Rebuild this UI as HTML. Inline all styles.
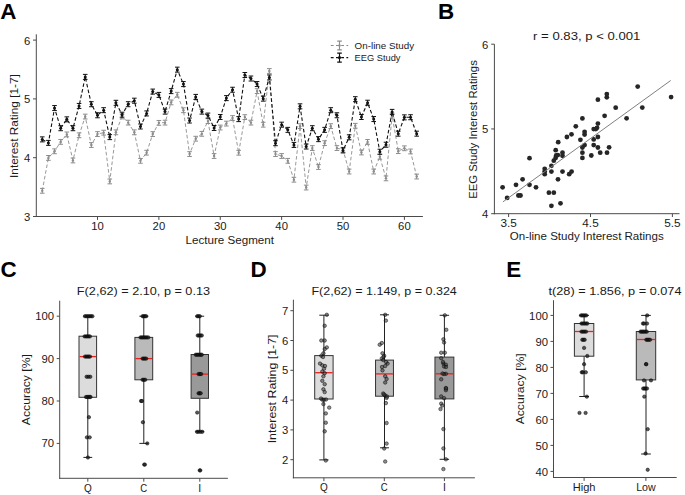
<!DOCTYPE html>
<html><head><meta charset="utf-8"><style>
html,body{margin:0;padding:0;background:#fff;}
svg{display:block;font-family:"Liberation Sans",sans-serif;}
</style></head><body>
<svg width="685" height="495" viewBox="0 0 685 495">
<rect width="685" height="495" fill="#fff"/>
<text x="0.2" y="18.7" font-size="22.4" font-weight="bold" fill="#000">A</text>
<text x="437.9" y="18.7" font-size="22.4" font-weight="bold" fill="#000">B</text>
<text x="0.6" y="277.3" font-size="22.4" font-weight="bold" fill="#000">C</text>
<text x="250.6" y="277.4" font-size="22.4" font-weight="bold" fill="#000">D</text>
<text x="506.2" y="277.3" font-size="22.4" font-weight="bold" fill="#000">E</text>
<line x1="36.30" y1="34.30" x2="36.30" y2="217.00" stroke="#4a4a4a" stroke-width="1.0"/>
<line x1="35.80" y1="216.50" x2="422.90" y2="216.50" stroke="#4a4a4a" stroke-width="1.0"/>
<line x1="33.00" y1="216.50" x2="36.30" y2="216.50" stroke="#4a4a4a" stroke-width="1.0"/>
<text transform="translate(30.40,220.90) scale(1.0792,1)" font-size="10.49" text-anchor="end" fill="#1a1a1a">3</text>
<line x1="33.00" y1="157.70" x2="36.30" y2="157.70" stroke="#4a4a4a" stroke-width="1.0"/>
<text transform="translate(30.40,162.10) scale(1.0792,1)" font-size="10.49" text-anchor="end" fill="#1a1a1a">4</text>
<line x1="33.00" y1="98.90" x2="36.30" y2="98.90" stroke="#4a4a4a" stroke-width="1.0"/>
<text transform="translate(30.40,103.30) scale(1.0792,1)" font-size="10.49" text-anchor="end" fill="#1a1a1a">5</text>
<line x1="33.00" y1="40.10" x2="36.30" y2="40.10" stroke="#4a4a4a" stroke-width="1.0"/>
<text transform="translate(30.40,44.50) scale(1.0792,1)" font-size="10.49" text-anchor="end" fill="#1a1a1a">6</text>
<line x1="97.50" y1="216.50" x2="97.50" y2="219.90" stroke="#4a4a4a" stroke-width="1.0"/>
<text transform="translate(97.50,230.00) scale(1.0792,1)" font-size="10.49" text-anchor="middle" fill="#1a1a1a">10</text>
<line x1="158.88" y1="216.50" x2="158.88" y2="219.90" stroke="#4a4a4a" stroke-width="1.0"/>
<text transform="translate(158.88,230.00) scale(1.0792,1)" font-size="10.49" text-anchor="middle" fill="#1a1a1a">20</text>
<line x1="220.26" y1="216.50" x2="220.26" y2="219.90" stroke="#4a4a4a" stroke-width="1.0"/>
<text transform="translate(220.26,230.00) scale(1.0792,1)" font-size="10.49" text-anchor="middle" fill="#1a1a1a">30</text>
<line x1="281.64" y1="216.50" x2="281.64" y2="219.90" stroke="#4a4a4a" stroke-width="1.0"/>
<text transform="translate(281.64,230.00) scale(1.0792,1)" font-size="10.49" text-anchor="middle" fill="#1a1a1a">40</text>
<line x1="343.02" y1="216.50" x2="343.02" y2="219.90" stroke="#4a4a4a" stroke-width="1.0"/>
<text transform="translate(343.02,230.00) scale(1.0792,1)" font-size="10.49" text-anchor="middle" fill="#1a1a1a">50</text>
<line x1="404.40" y1="216.50" x2="404.40" y2="219.90" stroke="#4a4a4a" stroke-width="1.0"/>
<text transform="translate(404.40,230.00) scale(1.0792,1)" font-size="10.49" text-anchor="middle" fill="#1a1a1a">60</text>
<text transform="translate(229.75,243.70) scale(1.0595,1)" font-size="10.97" text-anchor="middle" fill="#1a1a1a">Lecture Segment</text>
<text transform="translate(17.90,126.10) rotate(-90) scale(1.0879,1)" font-size="10.87" text-anchor="middle" fill="#1a1a1a">Interest Rating [1-7]</text>
<polyline points="42.26,190.80 48.40,157.90 54.53,151.29 60.67,141.88 66.81,134.43 72.95,160.47 79.09,135.29 85.22,116.56 91.36,145.03 97.50,134.07 103.64,132.68 109.78,181.43 115.91,132.32 122.05,116.47 128.19,122.63 134.33,132.32 140.47,160.83 146.60,152.69 152.74,134.07 158.88,122.87 165.02,122.63 171.16,102.39 177.29,94.77 183.43,110.24 189.57,154.07 195.71,138.71 201.85,133.83 207.98,121.08 214.12,156.02 220.26,127.52 226.40,123.60 232.54,118.07 238.67,152.73 244.81,117.12 250.95,122.63 257.09,91.11 263.23,124.70 269.36,71.02 275.50,154.07 281.64,156.02 287.78,160.83 293.92,179.72 300.05,126.16 306.19,187.55 312.33,148.08 318.47,167.02 324.61,143.16 330.74,126.16 336.88,148.08 343.02,149.82 349.16,171.54 355.30,125.80 361.43,152.48 367.57,141.92 373.71,171.54 379.85,156.82 385.99,178.37 392.12,115.57 398.26,151.14 404.40,148.28 410.54,151.47 416.68,176.55" fill="none" stroke="#999" stroke-width="1.0" stroke-dasharray="3.6 2.2"/>
<path d="M42.26 188.40V193.20M39.96 188.40h4.6M39.96 193.20h4.6" stroke="#8c8c8c" stroke-width="1" fill="none"/>
<circle cx="42.26" cy="190.80" r="1.2" fill="#8c8c8c"/>
<path d="M48.40 155.50V160.30M46.10 155.50h4.6M46.10 160.30h4.6" stroke="#8c8c8c" stroke-width="1" fill="none"/>
<circle cx="48.40" cy="157.90" r="1.2" fill="#8c8c8c"/>
<path d="M54.53 148.89V153.69M52.23 148.89h4.6M52.23 153.69h4.6" stroke="#8c8c8c" stroke-width="1" fill="none"/>
<circle cx="54.53" cy="151.29" r="1.2" fill="#8c8c8c"/>
<path d="M60.67 139.48V144.28M58.37 139.48h4.6M58.37 144.28h4.6" stroke="#8c8c8c" stroke-width="1" fill="none"/>
<circle cx="60.67" cy="141.88" r="1.2" fill="#8c8c8c"/>
<path d="M66.81 132.03V136.83M64.51 132.03h4.6M64.51 136.83h4.6" stroke="#8c8c8c" stroke-width="1" fill="none"/>
<circle cx="66.81" cy="134.43" r="1.2" fill="#8c8c8c"/>
<path d="M72.95 158.07V162.87M70.65 158.07h4.6M70.65 162.87h4.6" stroke="#8c8c8c" stroke-width="1" fill="none"/>
<circle cx="72.95" cy="160.47" r="1.2" fill="#8c8c8c"/>
<path d="M79.09 132.89V137.69M76.79 132.89h4.6M76.79 137.69h4.6" stroke="#8c8c8c" stroke-width="1" fill="none"/>
<circle cx="79.09" cy="135.29" r="1.2" fill="#8c8c8c"/>
<path d="M85.22 114.16V118.96M82.92 114.16h4.6M82.92 118.96h4.6" stroke="#8c8c8c" stroke-width="1" fill="none"/>
<circle cx="85.22" cy="116.56" r="1.2" fill="#8c8c8c"/>
<path d="M91.36 142.63V147.43M89.06 142.63h4.6M89.06 147.43h4.6" stroke="#8c8c8c" stroke-width="1" fill="none"/>
<circle cx="91.36" cy="145.03" r="1.2" fill="#8c8c8c"/>
<path d="M97.50 131.67V136.47M95.20 131.67h4.6M95.20 136.47h4.6" stroke="#8c8c8c" stroke-width="1" fill="none"/>
<circle cx="97.50" cy="134.07" r="1.2" fill="#8c8c8c"/>
<path d="M103.64 130.28V135.08M101.34 130.28h4.6M101.34 135.08h4.6" stroke="#8c8c8c" stroke-width="1" fill="none"/>
<circle cx="103.64" cy="132.68" r="1.2" fill="#8c8c8c"/>
<path d="M109.78 179.03V183.83M107.48 179.03h4.6M107.48 183.83h4.6" stroke="#8c8c8c" stroke-width="1" fill="none"/>
<circle cx="109.78" cy="181.43" r="1.2" fill="#8c8c8c"/>
<path d="M115.91 129.92V134.72M113.61 129.92h4.6M113.61 134.72h4.6" stroke="#8c8c8c" stroke-width="1" fill="none"/>
<circle cx="115.91" cy="132.32" r="1.2" fill="#8c8c8c"/>
<path d="M122.05 114.07V118.87M119.75 114.07h4.6M119.75 118.87h4.6" stroke="#8c8c8c" stroke-width="1" fill="none"/>
<circle cx="122.05" cy="116.47" r="1.2" fill="#8c8c8c"/>
<path d="M128.19 120.23V125.03M125.89 120.23h4.6M125.89 125.03h4.6" stroke="#8c8c8c" stroke-width="1" fill="none"/>
<circle cx="128.19" cy="122.63" r="1.2" fill="#8c8c8c"/>
<path d="M134.33 129.92V134.72M132.03 129.92h4.6M132.03 134.72h4.6" stroke="#8c8c8c" stroke-width="1" fill="none"/>
<circle cx="134.33" cy="132.32" r="1.2" fill="#8c8c8c"/>
<path d="M140.47 158.43V163.23M138.17 158.43h4.6M138.17 163.23h4.6" stroke="#8c8c8c" stroke-width="1" fill="none"/>
<circle cx="140.47" cy="160.83" r="1.2" fill="#8c8c8c"/>
<path d="M146.60 150.29V155.09M144.30 150.29h4.6M144.30 155.09h4.6" stroke="#8c8c8c" stroke-width="1" fill="none"/>
<circle cx="146.60" cy="152.69" r="1.2" fill="#8c8c8c"/>
<path d="M152.74 131.67V136.47M150.44 131.67h4.6M150.44 136.47h4.6" stroke="#8c8c8c" stroke-width="1" fill="none"/>
<circle cx="152.74" cy="134.07" r="1.2" fill="#8c8c8c"/>
<path d="M158.88 120.47V125.27M156.58 120.47h4.6M156.58 125.27h4.6" stroke="#8c8c8c" stroke-width="1" fill="none"/>
<circle cx="158.88" cy="122.87" r="1.2" fill="#8c8c8c"/>
<path d="M165.02 120.23V125.03M162.72 120.23h4.6M162.72 125.03h4.6" stroke="#8c8c8c" stroke-width="1" fill="none"/>
<circle cx="165.02" cy="122.63" r="1.2" fill="#8c8c8c"/>
<path d="M171.16 99.99V104.79M168.86 99.99h4.6M168.86 104.79h4.6" stroke="#8c8c8c" stroke-width="1" fill="none"/>
<circle cx="171.16" cy="102.39" r="1.2" fill="#8c8c8c"/>
<path d="M177.29 92.37V97.17M174.99 92.37h4.6M174.99 97.17h4.6" stroke="#8c8c8c" stroke-width="1" fill="none"/>
<circle cx="177.29" cy="94.77" r="1.2" fill="#8c8c8c"/>
<path d="M183.43 107.84V112.64M181.13 107.84h4.6M181.13 112.64h4.6" stroke="#8c8c8c" stroke-width="1" fill="none"/>
<circle cx="183.43" cy="110.24" r="1.2" fill="#8c8c8c"/>
<path d="M189.57 151.67V156.47M187.27 151.67h4.6M187.27 156.47h4.6" stroke="#8c8c8c" stroke-width="1" fill="none"/>
<circle cx="189.57" cy="154.07" r="1.2" fill="#8c8c8c"/>
<path d="M195.71 136.31V141.11M193.41 136.31h4.6M193.41 141.11h4.6" stroke="#8c8c8c" stroke-width="1" fill="none"/>
<circle cx="195.71" cy="138.71" r="1.2" fill="#8c8c8c"/>
<path d="M201.85 131.43V136.23M199.55 131.43h4.6M199.55 136.23h4.6" stroke="#8c8c8c" stroke-width="1" fill="none"/>
<circle cx="201.85" cy="133.83" r="1.2" fill="#8c8c8c"/>
<path d="M207.98 118.68V123.48M205.68 118.68h4.6M205.68 123.48h4.6" stroke="#8c8c8c" stroke-width="1" fill="none"/>
<circle cx="207.98" cy="121.08" r="1.2" fill="#8c8c8c"/>
<path d="M214.12 153.62V158.42M211.82 153.62h4.6M211.82 158.42h4.6" stroke="#8c8c8c" stroke-width="1" fill="none"/>
<circle cx="214.12" cy="156.02" r="1.2" fill="#8c8c8c"/>
<path d="M220.26 125.12V129.92M217.96 125.12h4.6M217.96 129.92h4.6" stroke="#8c8c8c" stroke-width="1" fill="none"/>
<circle cx="220.26" cy="127.52" r="1.2" fill="#8c8c8c"/>
<path d="M226.40 121.20V126.00M224.10 121.20h4.6M224.10 126.00h4.6" stroke="#8c8c8c" stroke-width="1" fill="none"/>
<circle cx="226.40" cy="123.60" r="1.2" fill="#8c8c8c"/>
<path d="M232.54 115.67V120.47M230.24 115.67h4.6M230.24 120.47h4.6" stroke="#8c8c8c" stroke-width="1" fill="none"/>
<circle cx="232.54" cy="118.07" r="1.2" fill="#8c8c8c"/>
<path d="M238.67 150.33V155.13M236.37 150.33h4.6M236.37 155.13h4.6" stroke="#8c8c8c" stroke-width="1" fill="none"/>
<circle cx="238.67" cy="152.73" r="1.2" fill="#8c8c8c"/>
<path d="M244.81 114.72V119.52M242.51 114.72h4.6M242.51 119.52h4.6" stroke="#8c8c8c" stroke-width="1" fill="none"/>
<circle cx="244.81" cy="117.12" r="1.2" fill="#8c8c8c"/>
<path d="M250.95 120.23V125.03M248.65 120.23h4.6M248.65 125.03h4.6" stroke="#8c8c8c" stroke-width="1" fill="none"/>
<circle cx="250.95" cy="122.63" r="1.2" fill="#8c8c8c"/>
<path d="M257.09 88.71V93.51M254.79 88.71h4.6M254.79 93.51h4.6" stroke="#8c8c8c" stroke-width="1" fill="none"/>
<circle cx="257.09" cy="91.11" r="1.2" fill="#8c8c8c"/>
<path d="M263.23 122.30V127.10M260.93 122.30h4.6M260.93 127.10h4.6" stroke="#8c8c8c" stroke-width="1" fill="none"/>
<circle cx="263.23" cy="124.70" r="1.2" fill="#8c8c8c"/>
<path d="M269.36 68.62V73.42M267.06 68.62h4.6M267.06 73.42h4.6" stroke="#8c8c8c" stroke-width="1" fill="none"/>
<circle cx="269.36" cy="71.02" r="1.2" fill="#8c8c8c"/>
<path d="M275.50 151.67V156.47M273.20 151.67h4.6M273.20 156.47h4.6" stroke="#8c8c8c" stroke-width="1" fill="none"/>
<circle cx="275.50" cy="154.07" r="1.2" fill="#8c8c8c"/>
<path d="M281.64 153.62V158.42M279.34 153.62h4.6M279.34 158.42h4.6" stroke="#8c8c8c" stroke-width="1" fill="none"/>
<circle cx="281.64" cy="156.02" r="1.2" fill="#8c8c8c"/>
<path d="M287.78 158.43V163.23M285.48 158.43h4.6M285.48 163.23h4.6" stroke="#8c8c8c" stroke-width="1" fill="none"/>
<circle cx="287.78" cy="160.83" r="1.2" fill="#8c8c8c"/>
<path d="M293.92 177.32V182.12M291.62 177.32h4.6M291.62 182.12h4.6" stroke="#8c8c8c" stroke-width="1" fill="none"/>
<circle cx="293.92" cy="179.72" r="1.2" fill="#8c8c8c"/>
<path d="M300.05 123.76V128.56M297.75 123.76h4.6M297.75 128.56h4.6" stroke="#8c8c8c" stroke-width="1" fill="none"/>
<circle cx="300.05" cy="126.16" r="1.2" fill="#8c8c8c"/>
<path d="M306.19 185.15V189.95M303.89 185.15h4.6M303.89 189.95h4.6" stroke="#8c8c8c" stroke-width="1" fill="none"/>
<circle cx="306.19" cy="187.55" r="1.2" fill="#8c8c8c"/>
<path d="M312.33 145.68V150.48M310.03 145.68h4.6M310.03 150.48h4.6" stroke="#8c8c8c" stroke-width="1" fill="none"/>
<circle cx="312.33" cy="148.08" r="1.2" fill="#8c8c8c"/>
<path d="M318.47 164.62V169.42M316.17 164.62h4.6M316.17 169.42h4.6" stroke="#8c8c8c" stroke-width="1" fill="none"/>
<circle cx="318.47" cy="167.02" r="1.2" fill="#8c8c8c"/>
<path d="M324.61 140.76V145.56M322.31 140.76h4.6M322.31 145.56h4.6" stroke="#8c8c8c" stroke-width="1" fill="none"/>
<circle cx="324.61" cy="143.16" r="1.2" fill="#8c8c8c"/>
<path d="M330.74 123.76V128.56M328.44 123.76h4.6M328.44 128.56h4.6" stroke="#8c8c8c" stroke-width="1" fill="none"/>
<circle cx="330.74" cy="126.16" r="1.2" fill="#8c8c8c"/>
<path d="M336.88 145.68V150.48M334.58 145.68h4.6M334.58 150.48h4.6" stroke="#8c8c8c" stroke-width="1" fill="none"/>
<circle cx="336.88" cy="148.08" r="1.2" fill="#8c8c8c"/>
<path d="M343.02 147.42V152.22M340.72 147.42h4.6M340.72 152.22h4.6" stroke="#8c8c8c" stroke-width="1" fill="none"/>
<circle cx="343.02" cy="149.82" r="1.2" fill="#8c8c8c"/>
<path d="M349.16 169.14V173.94M346.86 169.14h4.6M346.86 173.94h4.6" stroke="#8c8c8c" stroke-width="1" fill="none"/>
<circle cx="349.16" cy="171.54" r="1.2" fill="#8c8c8c"/>
<path d="M355.30 123.40V128.20M353.00 123.40h4.6M353.00 128.20h4.6" stroke="#8c8c8c" stroke-width="1" fill="none"/>
<circle cx="355.30" cy="125.80" r="1.2" fill="#8c8c8c"/>
<path d="M361.43 150.08V154.88M359.13 150.08h4.6M359.13 154.88h4.6" stroke="#8c8c8c" stroke-width="1" fill="none"/>
<circle cx="361.43" cy="152.48" r="1.2" fill="#8c8c8c"/>
<path d="M367.57 139.52V144.32M365.27 139.52h4.6M365.27 144.32h4.6" stroke="#8c8c8c" stroke-width="1" fill="none"/>
<circle cx="367.57" cy="141.92" r="1.2" fill="#8c8c8c"/>
<path d="M373.71 169.14V173.94M371.41 169.14h4.6M371.41 173.94h4.6" stroke="#8c8c8c" stroke-width="1" fill="none"/>
<circle cx="373.71" cy="171.54" r="1.2" fill="#8c8c8c"/>
<path d="M379.85 154.42V159.22M377.55 154.42h4.6M377.55 159.22h4.6" stroke="#8c8c8c" stroke-width="1" fill="none"/>
<circle cx="379.85" cy="156.82" r="1.2" fill="#8c8c8c"/>
<path d="M385.99 175.97V180.77M383.69 175.97h4.6M383.69 180.77h4.6" stroke="#8c8c8c" stroke-width="1" fill="none"/>
<circle cx="385.99" cy="178.37" r="1.2" fill="#8c8c8c"/>
<path d="M392.12 113.17V117.97M389.82 113.17h4.6M389.82 117.97h4.6" stroke="#8c8c8c" stroke-width="1" fill="none"/>
<circle cx="392.12" cy="115.57" r="1.2" fill="#8c8c8c"/>
<path d="M398.26 148.74V153.54M395.96 148.74h4.6M395.96 153.54h4.6" stroke="#8c8c8c" stroke-width="1" fill="none"/>
<circle cx="398.26" cy="151.14" r="1.2" fill="#8c8c8c"/>
<path d="M404.40 145.88V150.68M402.10 145.88h4.6M402.10 150.68h4.6" stroke="#8c8c8c" stroke-width="1" fill="none"/>
<circle cx="404.40" cy="148.28" r="1.2" fill="#8c8c8c"/>
<path d="M410.54 149.07V153.87M408.24 149.07h4.6M408.24 153.87h4.6" stroke="#8c8c8c" stroke-width="1" fill="none"/>
<circle cx="410.54" cy="151.47" r="1.2" fill="#8c8c8c"/>
<path d="M416.68 174.15V178.95M414.38 174.15h4.6M414.38 178.95h4.6" stroke="#8c8c8c" stroke-width="1" fill="none"/>
<circle cx="416.68" cy="176.55" r="1.2" fill="#8c8c8c"/>
<polyline points="42.26,139.39 48.40,142.88 54.53,108.06 60.67,128.21 66.81,119.35 72.95,128.21 79.09,105.94 85.22,76.88 91.36,104.21 97.50,115.27 103.64,110.18 109.78,137.11 115.91,102.81 122.05,114.71 128.19,104.21 134.33,100.69 140.47,126.49 146.60,113.43 152.74,91.59 158.88,94.91 165.02,111.62 171.16,91.11 177.29,69.67 183.43,84.09 189.57,120.52 195.71,96.92 201.85,111.62 207.98,115.59 214.12,127.97 220.26,116.99 226.40,98.10 232.54,89.75 238.67,119.11 244.81,75.03 250.95,78.52 257.09,84.05 263.23,98.64 269.36,77.44 275.50,143.20 281.64,124.68 287.78,129.86 293.92,144.92 300.05,106.33 306.19,146.52 312.33,128.21 318.47,139.15 324.61,129.86 330.74,110.18 336.88,115.27 343.02,150.45 349.16,137.31 355.30,99.20 361.43,116.99 367.57,102.73 373.71,119.04 379.85,151.73 385.99,144.72 392.12,111.90 398.26,133.66 404.40,117.36 410.54,117.23 416.68,133.66" fill="none" stroke="#111" stroke-width="1.1" stroke-dasharray="3.6 2.2"/>
<path d="M42.26 136.89V141.89M39.96 136.89h4.6M39.96 141.89h4.6" stroke="#111" stroke-width="1" fill="none"/>
<circle cx="42.26" cy="139.39" r="1.5" fill="#111"/>
<path d="M48.40 140.38V145.38M46.10 140.38h4.6M46.10 145.38h4.6" stroke="#111" stroke-width="1" fill="none"/>
<circle cx="48.40" cy="142.88" r="1.5" fill="#111"/>
<path d="M54.53 105.56V110.56M52.23 105.56h4.6M52.23 110.56h4.6" stroke="#111" stroke-width="1" fill="none"/>
<circle cx="54.53" cy="108.06" r="1.5" fill="#111"/>
<path d="M60.67 125.71V130.71M58.37 125.71h4.6M58.37 130.71h4.6" stroke="#111" stroke-width="1" fill="none"/>
<circle cx="60.67" cy="128.21" r="1.5" fill="#111"/>
<path d="M66.81 116.85V121.85M64.51 116.85h4.6M64.51 121.85h4.6" stroke="#111" stroke-width="1" fill="none"/>
<circle cx="66.81" cy="119.35" r="1.5" fill="#111"/>
<path d="M72.95 125.71V130.71M70.65 125.71h4.6M70.65 130.71h4.6" stroke="#111" stroke-width="1" fill="none"/>
<circle cx="72.95" cy="128.21" r="1.5" fill="#111"/>
<path d="M79.09 103.44V108.44M76.79 103.44h4.6M76.79 108.44h4.6" stroke="#111" stroke-width="1" fill="none"/>
<circle cx="79.09" cy="105.94" r="1.5" fill="#111"/>
<path d="M85.22 74.38V79.38M82.92 74.38h4.6M82.92 79.38h4.6" stroke="#111" stroke-width="1" fill="none"/>
<circle cx="85.22" cy="76.88" r="1.5" fill="#111"/>
<path d="M91.36 101.71V106.71M89.06 101.71h4.6M89.06 106.71h4.6" stroke="#111" stroke-width="1" fill="none"/>
<circle cx="91.36" cy="104.21" r="1.5" fill="#111"/>
<path d="M97.50 112.77V117.77M95.20 112.77h4.6M95.20 117.77h4.6" stroke="#111" stroke-width="1" fill="none"/>
<circle cx="97.50" cy="115.27" r="1.5" fill="#111"/>
<path d="M103.64 107.68V112.68M101.34 107.68h4.6M101.34 112.68h4.6" stroke="#111" stroke-width="1" fill="none"/>
<circle cx="103.64" cy="110.18" r="1.5" fill="#111"/>
<path d="M109.78 134.61V139.61M107.48 134.61h4.6M107.48 139.61h4.6" stroke="#111" stroke-width="1" fill="none"/>
<circle cx="109.78" cy="137.11" r="1.5" fill="#111"/>
<path d="M115.91 100.31V105.31M113.61 100.31h4.6M113.61 105.31h4.6" stroke="#111" stroke-width="1" fill="none"/>
<circle cx="115.91" cy="102.81" r="1.5" fill="#111"/>
<path d="M122.05 112.21V117.21M119.75 112.21h4.6M119.75 117.21h4.6" stroke="#111" stroke-width="1" fill="none"/>
<circle cx="122.05" cy="114.71" r="1.5" fill="#111"/>
<path d="M128.19 101.71V106.71M125.89 101.71h4.6M125.89 106.71h4.6" stroke="#111" stroke-width="1" fill="none"/>
<circle cx="128.19" cy="104.21" r="1.5" fill="#111"/>
<path d="M134.33 98.19V103.19M132.03 98.19h4.6M132.03 103.19h4.6" stroke="#111" stroke-width="1" fill="none"/>
<circle cx="134.33" cy="100.69" r="1.5" fill="#111"/>
<path d="M140.47 123.99V128.99M138.17 123.99h4.6M138.17 128.99h4.6" stroke="#111" stroke-width="1" fill="none"/>
<circle cx="140.47" cy="126.49" r="1.5" fill="#111"/>
<path d="M146.60 110.93V115.93M144.30 110.93h4.6M144.30 115.93h4.6" stroke="#111" stroke-width="1" fill="none"/>
<circle cx="146.60" cy="113.43" r="1.5" fill="#111"/>
<path d="M152.74 89.09V94.09M150.44 89.09h4.6M150.44 94.09h4.6" stroke="#111" stroke-width="1" fill="none"/>
<circle cx="152.74" cy="91.59" r="1.5" fill="#111"/>
<path d="M158.88 92.41V97.41M156.58 92.41h4.6M156.58 97.41h4.6" stroke="#111" stroke-width="1" fill="none"/>
<circle cx="158.88" cy="94.91" r="1.5" fill="#111"/>
<path d="M165.02 109.12V114.12M162.72 109.12h4.6M162.72 114.12h4.6" stroke="#111" stroke-width="1" fill="none"/>
<circle cx="165.02" cy="111.62" r="1.5" fill="#111"/>
<path d="M171.16 88.61V93.61M168.86 88.61h4.6M168.86 93.61h4.6" stroke="#111" stroke-width="1" fill="none"/>
<circle cx="171.16" cy="91.11" r="1.5" fill="#111"/>
<path d="M177.29 67.17V72.17M174.99 67.17h4.6M174.99 72.17h4.6" stroke="#111" stroke-width="1" fill="none"/>
<circle cx="177.29" cy="69.67" r="1.5" fill="#111"/>
<path d="M183.43 81.59V86.59M181.13 81.59h4.6M181.13 86.59h4.6" stroke="#111" stroke-width="1" fill="none"/>
<circle cx="183.43" cy="84.09" r="1.5" fill="#111"/>
<path d="M189.57 118.02V123.02M187.27 118.02h4.6M187.27 123.02h4.6" stroke="#111" stroke-width="1" fill="none"/>
<circle cx="189.57" cy="120.52" r="1.5" fill="#111"/>
<path d="M195.71 94.42V99.42M193.41 94.42h4.6M193.41 99.42h4.6" stroke="#111" stroke-width="1" fill="none"/>
<circle cx="195.71" cy="96.92" r="1.5" fill="#111"/>
<path d="M201.85 109.12V114.12M199.55 109.12h4.6M199.55 114.12h4.6" stroke="#111" stroke-width="1" fill="none"/>
<circle cx="201.85" cy="111.62" r="1.5" fill="#111"/>
<path d="M207.98 113.09V118.09M205.68 113.09h4.6M205.68 118.09h4.6" stroke="#111" stroke-width="1" fill="none"/>
<circle cx="207.98" cy="115.59" r="1.5" fill="#111"/>
<path d="M214.12 125.47V130.47M211.82 125.47h4.6M211.82 130.47h4.6" stroke="#111" stroke-width="1" fill="none"/>
<circle cx="214.12" cy="127.97" r="1.5" fill="#111"/>
<path d="M220.26 114.49V119.49M217.96 114.49h4.6M217.96 119.49h4.6" stroke="#111" stroke-width="1" fill="none"/>
<circle cx="220.26" cy="116.99" r="1.5" fill="#111"/>
<path d="M226.40 95.60V100.60M224.10 95.60h4.6M224.10 100.60h4.6" stroke="#111" stroke-width="1" fill="none"/>
<circle cx="226.40" cy="98.10" r="1.5" fill="#111"/>
<path d="M232.54 87.25V92.25M230.24 87.25h4.6M230.24 92.25h4.6" stroke="#111" stroke-width="1" fill="none"/>
<circle cx="232.54" cy="89.75" r="1.5" fill="#111"/>
<path d="M238.67 116.61V121.61M236.37 116.61h4.6M236.37 121.61h4.6" stroke="#111" stroke-width="1" fill="none"/>
<circle cx="238.67" cy="119.11" r="1.5" fill="#111"/>
<path d="M244.81 72.53V77.53M242.51 72.53h4.6M242.51 77.53h4.6" stroke="#111" stroke-width="1" fill="none"/>
<circle cx="244.81" cy="75.03" r="1.5" fill="#111"/>
<path d="M250.95 76.02V81.02M248.65 76.02h4.6M248.65 81.02h4.6" stroke="#111" stroke-width="1" fill="none"/>
<circle cx="250.95" cy="78.52" r="1.5" fill="#111"/>
<path d="M257.09 81.55V86.55M254.79 81.55h4.6M254.79 86.55h4.6" stroke="#111" stroke-width="1" fill="none"/>
<circle cx="257.09" cy="84.05" r="1.5" fill="#111"/>
<path d="M263.23 96.14V101.14M260.93 96.14h4.6M260.93 101.14h4.6" stroke="#111" stroke-width="1" fill="none"/>
<circle cx="263.23" cy="98.64" r="1.5" fill="#111"/>
<path d="M269.36 74.94V79.94M267.06 74.94h4.6M267.06 79.94h4.6" stroke="#111" stroke-width="1" fill="none"/>
<circle cx="269.36" cy="77.44" r="1.5" fill="#111"/>
<path d="M275.50 140.70V145.70M273.20 140.70h4.6M273.20 145.70h4.6" stroke="#111" stroke-width="1" fill="none"/>
<circle cx="275.50" cy="143.20" r="1.5" fill="#111"/>
<path d="M281.64 122.18V127.18M279.34 122.18h4.6M279.34 127.18h4.6" stroke="#111" stroke-width="1" fill="none"/>
<circle cx="281.64" cy="124.68" r="1.5" fill="#111"/>
<path d="M287.78 127.36V132.36M285.48 127.36h4.6M285.48 132.36h4.6" stroke="#111" stroke-width="1" fill="none"/>
<circle cx="287.78" cy="129.86" r="1.5" fill="#111"/>
<path d="M293.92 142.42V147.42M291.62 142.42h4.6M291.62 147.42h4.6" stroke="#111" stroke-width="1" fill="none"/>
<circle cx="293.92" cy="144.92" r="1.5" fill="#111"/>
<path d="M300.05 103.83V108.83M297.75 103.83h4.6M297.75 108.83h4.6" stroke="#111" stroke-width="1" fill="none"/>
<circle cx="300.05" cy="106.33" r="1.5" fill="#111"/>
<path d="M306.19 144.02V149.02M303.89 144.02h4.6M303.89 149.02h4.6" stroke="#111" stroke-width="1" fill="none"/>
<circle cx="306.19" cy="146.52" r="1.5" fill="#111"/>
<path d="M312.33 125.71V130.71M310.03 125.71h4.6M310.03 130.71h4.6" stroke="#111" stroke-width="1" fill="none"/>
<circle cx="312.33" cy="128.21" r="1.5" fill="#111"/>
<path d="M318.47 136.65V141.65M316.17 136.65h4.6M316.17 141.65h4.6" stroke="#111" stroke-width="1" fill="none"/>
<circle cx="318.47" cy="139.15" r="1.5" fill="#111"/>
<path d="M324.61 127.36V132.36M322.31 127.36h4.6M322.31 132.36h4.6" stroke="#111" stroke-width="1" fill="none"/>
<circle cx="324.61" cy="129.86" r="1.5" fill="#111"/>
<path d="M330.74 107.68V112.68M328.44 107.68h4.6M328.44 112.68h4.6" stroke="#111" stroke-width="1" fill="none"/>
<circle cx="330.74" cy="110.18" r="1.5" fill="#111"/>
<path d="M336.88 112.77V117.77M334.58 112.77h4.6M334.58 117.77h4.6" stroke="#111" stroke-width="1" fill="none"/>
<circle cx="336.88" cy="115.27" r="1.5" fill="#111"/>
<path d="M343.02 147.95V152.95M340.72 147.95h4.6M340.72 152.95h4.6" stroke="#111" stroke-width="1" fill="none"/>
<circle cx="343.02" cy="150.45" r="1.5" fill="#111"/>
<path d="M349.16 134.81V139.81M346.86 134.81h4.6M346.86 139.81h4.6" stroke="#111" stroke-width="1" fill="none"/>
<circle cx="349.16" cy="137.31" r="1.5" fill="#111"/>
<path d="M355.30 96.70V101.70M353.00 96.70h4.6M353.00 101.70h4.6" stroke="#111" stroke-width="1" fill="none"/>
<circle cx="355.30" cy="99.20" r="1.5" fill="#111"/>
<path d="M361.43 114.49V119.49M359.13 114.49h4.6M359.13 119.49h4.6" stroke="#111" stroke-width="1" fill="none"/>
<circle cx="361.43" cy="116.99" r="1.5" fill="#111"/>
<path d="M367.57 100.23V105.23M365.27 100.23h4.6M365.27 105.23h4.6" stroke="#111" stroke-width="1" fill="none"/>
<circle cx="367.57" cy="102.73" r="1.5" fill="#111"/>
<path d="M373.71 116.54V121.54M371.41 116.54h4.6M371.41 121.54h4.6" stroke="#111" stroke-width="1" fill="none"/>
<circle cx="373.71" cy="119.04" r="1.5" fill="#111"/>
<path d="M379.85 149.23V154.23M377.55 149.23h4.6M377.55 154.23h4.6" stroke="#111" stroke-width="1" fill="none"/>
<circle cx="379.85" cy="151.73" r="1.5" fill="#111"/>
<path d="M385.99 142.22V147.22M383.69 142.22h4.6M383.69 147.22h4.6" stroke="#111" stroke-width="1" fill="none"/>
<circle cx="385.99" cy="144.72" r="1.5" fill="#111"/>
<path d="M392.12 109.40V114.40M389.82 109.40h4.6M389.82 114.40h4.6" stroke="#111" stroke-width="1" fill="none"/>
<circle cx="392.12" cy="111.90" r="1.5" fill="#111"/>
<path d="M398.26 131.16V136.16M395.96 131.16h4.6M395.96 136.16h4.6" stroke="#111" stroke-width="1" fill="none"/>
<circle cx="398.26" cy="133.66" r="1.5" fill="#111"/>
<path d="M404.40 114.86V119.86M402.10 114.86h4.6M402.10 119.86h4.6" stroke="#111" stroke-width="1" fill="none"/>
<circle cx="404.40" cy="117.36" r="1.5" fill="#111"/>
<path d="M410.54 114.73V119.73M408.24 114.73h4.6M408.24 119.73h4.6" stroke="#111" stroke-width="1" fill="none"/>
<circle cx="410.54" cy="117.23" r="1.5" fill="#111"/>
<path d="M416.68 131.16V136.16M414.38 131.16h4.6M414.38 136.16h4.6" stroke="#111" stroke-width="1" fill="none"/>
<circle cx="416.68" cy="133.66" r="1.5" fill="#111"/>
<line x1="330.80" y1="45.50" x2="348.20" y2="45.50" stroke="#8c8c8c" stroke-width="1.1" stroke-dasharray="2.8 2.4"/>
<path d="M339.5 41.10V49.90M337.2 41.10h4.6M337.2 49.90h4.6" stroke="#8c8c8c" stroke-width="1.1" fill="none"/>
<circle cx="339.50" cy="45.50" r="1.2" fill="#8c8c8c"/>
<text transform="translate(354.60,48.80) scale(1.0575,1)" font-size="9.28" text-anchor="start" fill="#1a1a1a">On-line Study</text>
<line x1="330.80" y1="57.60" x2="348.20" y2="57.60" stroke="#111" stroke-width="1.1" stroke-dasharray="2.8 2.4"/>
<path d="M339.5 53.10V62.10M337.2 53.10h4.6M337.2 62.10h4.6" stroke="#111" stroke-width="1.1" fill="none"/>
<circle cx="339.50" cy="57.60" r="1.6" fill="#111"/>
<text transform="translate(354.60,60.90) scale(1.0000,1)" font-size="9.28" text-anchor="start" fill="#1a1a1a">EEG Study</text>
<line x1="494.40" y1="44.20" x2="494.40" y2="214.20" stroke="#4a4a4a" stroke-width="1.0"/>
<line x1="493.90" y1="213.70" x2="679.50" y2="213.70" stroke="#4a4a4a" stroke-width="1.0"/>
<line x1="491.20" y1="213.70" x2="494.40" y2="213.70" stroke="#4a4a4a" stroke-width="1.0"/>
<text transform="translate(488.30,218.00) scale(1.0792,1)" font-size="10.49" text-anchor="end" fill="#1a1a1a">4</text>
<line x1="491.20" y1="128.95" x2="494.40" y2="128.95" stroke="#4a4a4a" stroke-width="1.0"/>
<text transform="translate(488.30,133.25) scale(1.0792,1)" font-size="10.49" text-anchor="end" fill="#1a1a1a">5</text>
<line x1="491.20" y1="44.20" x2="494.40" y2="44.20" stroke="#4a4a4a" stroke-width="1.0"/>
<text transform="translate(488.30,48.50) scale(1.0792,1)" font-size="10.49" text-anchor="end" fill="#1a1a1a">6</text>
<line x1="508.60" y1="213.70" x2="508.60" y2="217.00" stroke="#4a4a4a" stroke-width="1.0"/>
<text transform="translate(508.60,226.90) scale(1.0793,1)" font-size="10.92" text-anchor="middle" fill="#1a1a1a">3.5</text>
<line x1="590.50" y1="213.70" x2="590.50" y2="217.00" stroke="#4a4a4a" stroke-width="1.0"/>
<text transform="translate(590.50,226.90) scale(1.0793,1)" font-size="10.92" text-anchor="middle" fill="#1a1a1a">4.5</text>
<line x1="672.40" y1="213.70" x2="672.40" y2="217.00" stroke="#4a4a4a" stroke-width="1.0"/>
<text transform="translate(672.40,226.90) scale(1.0793,1)" font-size="10.92" text-anchor="middle" fill="#1a1a1a">5.5</text>
<text transform="translate(586.70,39.90) scale(1.1386,1)" font-size="11.55" text-anchor="middle" fill="#1a1a1a">r = 0.83, p &lt; 0.001</text>
<text transform="translate(586.70,240.40) scale(1.0626,1)" font-size="10.87" text-anchor="middle" fill="#1a1a1a">On-line Study Interest Ratings</text>
<text transform="translate(477.20,129.50) rotate(-90) scale(1.0398,1)" font-size="10.92" text-anchor="middle" fill="#1a1a1a">EEG Study Interest Ratings</text>
<circle cx="502.60" cy="187.30" r="2.4" fill="#262626"/>
<circle cx="548.90" cy="192.70" r="2.4" fill="#262626"/>
<circle cx="558.20" cy="142.20" r="2.4" fill="#262626"/>
<circle cx="571.60" cy="171.60" r="2.4" fill="#262626"/>
<circle cx="582.40" cy="157.90" r="2.4" fill="#262626"/>
<circle cx="544.70" cy="171.60" r="2.4" fill="#262626"/>
<circle cx="580.40" cy="139.80" r="2.4" fill="#262626"/>
<circle cx="606.80" cy="97.30" r="2.4" fill="#262626"/>
<circle cx="566.90" cy="137.00" r="2.4" fill="#262626"/>
<circle cx="582.40" cy="152.70" r="2.4" fill="#262626"/>
<circle cx="584.60" cy="145.10" r="2.4" fill="#262626"/>
<circle cx="516.00" cy="184.80" r="2.4" fill="#262626"/>
<circle cx="584.60" cy="134.50" r="2.4" fill="#262626"/>
<circle cx="607.00" cy="152.70" r="2.4" fill="#262626"/>
<circle cx="597.90" cy="137.00" r="2.4" fill="#262626"/>
<circle cx="584.60" cy="131.80" r="2.4" fill="#262626"/>
<circle cx="544.70" cy="168.80" r="2.4" fill="#262626"/>
<circle cx="555.70" cy="150.20" r="2.4" fill="#262626"/>
<circle cx="582.40" cy="118.40" r="2.4" fill="#262626"/>
<circle cx="597.90" cy="123.60" r="2.4" fill="#262626"/>
<circle cx="597.90" cy="147.50" r="2.4" fill="#262626"/>
<circle cx="626.60" cy="118.30" r="2.4" fill="#262626"/>
<circle cx="637.70" cy="86.60" r="2.4" fill="#262626"/>
<circle cx="615.70" cy="107.70" r="2.4" fill="#262626"/>
<circle cx="553.80" cy="160.70" r="2.4" fill="#262626"/>
<circle cx="575.80" cy="126.30" r="2.4" fill="#262626"/>
<circle cx="582.40" cy="147.50" r="2.4" fill="#262626"/>
<circle cx="600.20" cy="152.70" r="2.4" fill="#262626"/>
<circle cx="551.40" cy="171.60" r="2.4" fill="#262626"/>
<circle cx="591.30" cy="155.50" r="2.4" fill="#262626"/>
<circle cx="597.05" cy="127.80" r="2.4" fill="#262626"/>
<circle cx="604.60" cy="115.80" r="2.4" fill="#262626"/>
<circle cx="555.60" cy="157.90" r="2.4" fill="#262626"/>
<circle cx="606.80" cy="94.10" r="2.4" fill="#262626"/>
<circle cx="597.90" cy="99.70" r="2.4" fill="#262626"/>
<circle cx="642.30" cy="107.60" r="2.4" fill="#262626"/>
<circle cx="595.80" cy="129.10" r="2.4" fill="#262626"/>
<circle cx="671.10" cy="97.10" r="2.4" fill="#262626"/>
<circle cx="553.80" cy="192.70" r="2.4" fill="#262626"/>
<circle cx="551.40" cy="165.80" r="2.4" fill="#262626"/>
<circle cx="544.70" cy="174.20" r="2.4" fill="#262626"/>
<circle cx="518.40" cy="195.50" r="2.4" fill="#262626"/>
<circle cx="593.70" cy="139.40" r="2.4" fill="#262626"/>
<circle cx="507.10" cy="197.90" r="2.4" fill="#262626"/>
<circle cx="562.50" cy="171.60" r="2.4" fill="#262626"/>
<circle cx="536.00" cy="187.30" r="2.4" fill="#262626"/>
<circle cx="569.20" cy="174.20" r="2.4" fill="#262626"/>
<circle cx="593.70" cy="145.10" r="2.4" fill="#262626"/>
<circle cx="562.50" cy="152.70" r="2.4" fill="#262626"/>
<circle cx="560.50" cy="203.30" r="2.4" fill="#262626"/>
<circle cx="529.50" cy="184.80" r="2.4" fill="#262626"/>
<circle cx="593.70" cy="129.10" r="2.4" fill="#262626"/>
<circle cx="556.20" cy="155.50" r="2.4" fill="#262626"/>
<circle cx="571.50" cy="134.30" r="2.4" fill="#262626"/>
<circle cx="529.50" cy="158.20" r="2.4" fill="#262626"/>
<circle cx="551.40" cy="205.80" r="2.4" fill="#262626"/>
<circle cx="520.50" cy="195.50" r="2.4" fill="#262626"/>
<circle cx="609.10" cy="147.30" r="2.4" fill="#262626"/>
<circle cx="558.00" cy="179.30" r="2.4" fill="#262626"/>
<circle cx="562.50" cy="155.80" r="2.4" fill="#262626"/>
<circle cx="557.80" cy="155.10" r="2.4" fill="#262626"/>
<circle cx="522.60" cy="179.30" r="2.4" fill="#262626"/>
<line x1="502.90" y1="201.90" x2="670.70" y2="80.50" stroke="#808080" stroke-width="1.0"/>
<line x1="59.70" y1="300.70" x2="59.70" y2="478.80" stroke="#4a4a4a" stroke-width="1.0"/>
<line x1="59.20" y1="478.30" x2="227.90" y2="478.30" stroke="#4a4a4a" stroke-width="1.0"/>
<line x1="56.70" y1="316.20" x2="59.70" y2="316.20" stroke="#4a4a4a" stroke-width="1.0"/>
<text transform="translate(54.10,320.10) scale(1.0792,1)" font-size="10.49" text-anchor="end" fill="#1a1a1a">100</text>
<line x1="56.70" y1="358.60" x2="59.70" y2="358.60" stroke="#4a4a4a" stroke-width="1.0"/>
<text transform="translate(54.10,362.50) scale(1.0792,1)" font-size="10.49" text-anchor="end" fill="#1a1a1a">90</text>
<line x1="56.70" y1="401.00" x2="59.70" y2="401.00" stroke="#4a4a4a" stroke-width="1.0"/>
<text transform="translate(54.10,404.90) scale(1.0792,1)" font-size="10.49" text-anchor="end" fill="#1a1a1a">80</text>
<line x1="56.70" y1="443.40" x2="59.70" y2="443.40" stroke="#4a4a4a" stroke-width="1.0"/>
<text transform="translate(54.10,447.30) scale(1.0792,1)" font-size="10.49" text-anchor="end" fill="#1a1a1a">70</text>
<line x1="87.80" y1="478.30" x2="87.80" y2="481.70" stroke="#4a4a4a" stroke-width="1.0"/>
<text transform="translate(87.80,491.70) scale(0.9547,1)" font-size="10.49" text-anchor="middle" fill="#1a1a1a">Q</text>
<line x1="143.80" y1="478.30" x2="143.80" y2="481.70" stroke="#4a4a4a" stroke-width="1.0"/>
<text transform="translate(143.80,491.70) scale(0.9121,1)" font-size="10.49" text-anchor="middle" fill="#1a1a1a">C</text>
<line x1="199.80" y1="478.30" x2="199.80" y2="481.70" stroke="#4a4a4a" stroke-width="1.0"/>
<text transform="translate(199.80,491.70) scale(1.0014,1)" font-size="10.49" text-anchor="middle" fill="#1a1a1a">I</text>
<text transform="translate(143.45,295.40) scale(1.1134,1)" font-size="11.40" text-anchor="middle" fill="#1a1a1a">F(2,62) = 2.10, p = 0.13</text>
<text transform="translate(29.50,389.60) rotate(-90) scale(1.0693,1)" font-size="11.40" text-anchor="middle" fill="#1a1a1a">Accuracy [%]</text>
<line x1="87.80" y1="316.20" x2="87.80" y2="336.20" stroke="#222" stroke-width="1.0"/>
<line x1="87.80" y1="397.30" x2="87.80" y2="457.40" stroke="#222" stroke-width="1.0"/>
<line x1="83.40" y1="316.20" x2="92.20" y2="316.20" stroke="#222" stroke-width="1.0"/>
<line x1="83.40" y1="457.40" x2="92.20" y2="457.40" stroke="#222" stroke-width="1.0"/>
<rect x="79.00" y="336.20" width="17.60" height="61.10" fill="#dcdcdc" stroke="#333" stroke-width="1.0"/>
<line x1="79.50" y1="356.60" x2="96.10" y2="356.60" stroke="#f0201c" stroke-width="1.3"/>
<line x1="143.80" y1="316.20" x2="143.80" y2="337.40" stroke="#222" stroke-width="1.0"/>
<line x1="143.80" y1="379.80" x2="143.80" y2="443.40" stroke="#222" stroke-width="1.0"/>
<line x1="139.35" y1="316.20" x2="148.25" y2="316.20" stroke="#222" stroke-width="1.0"/>
<line x1="139.35" y1="443.40" x2="148.25" y2="443.40" stroke="#222" stroke-width="1.0"/>
<rect x="134.90" y="337.40" width="17.80" height="42.40" fill="#bababa" stroke="#333" stroke-width="1.0"/>
<line x1="135.40" y1="358.60" x2="152.20" y2="358.60" stroke="#f0201c" stroke-width="1.3"/>
<line x1="199.80" y1="316.20" x2="199.80" y2="354.50" stroke="#222" stroke-width="1.0"/>
<line x1="199.80" y1="398.30" x2="199.80" y2="431.60" stroke="#222" stroke-width="1.0"/>
<line x1="195.45" y1="316.20" x2="204.15" y2="316.20" stroke="#222" stroke-width="1.0"/>
<line x1="195.45" y1="431.60" x2="204.15" y2="431.60" stroke="#222" stroke-width="1.0"/>
<rect x="191.10" y="354.50" width="17.40" height="43.80" fill="#999999" stroke="#333" stroke-width="1.0"/>
<line x1="191.60" y1="374.10" x2="208.00" y2="374.10" stroke="#f0201c" stroke-width="1.3"/>
<circle cx="85.00" cy="316.20" r="1.7" fill="#1a1a1a" fill-opacity="0.72" stroke="#000" stroke-width="0.6" stroke-opacity="0.8"/>
<circle cx="86.50" cy="316.20" r="1.7" fill="#1a1a1a" fill-opacity="0.72" stroke="#000" stroke-width="0.6" stroke-opacity="0.8"/>
<circle cx="88.00" cy="316.20" r="1.7" fill="#1a1a1a" fill-opacity="0.72" stroke="#000" stroke-width="0.6" stroke-opacity="0.8"/>
<circle cx="89.50" cy="316.20" r="1.7" fill="#1a1a1a" fill-opacity="0.72" stroke="#000" stroke-width="0.6" stroke-opacity="0.8"/>
<circle cx="91.00" cy="316.20" r="1.7" fill="#1a1a1a" fill-opacity="0.72" stroke="#000" stroke-width="0.6" stroke-opacity="0.8"/>
<circle cx="92.40" cy="316.20" r="1.7" fill="#1a1a1a" fill-opacity="0.72" stroke="#000" stroke-width="0.6" stroke-opacity="0.8"/>
<circle cx="84.60" cy="336.39" r="1.7" fill="#1a1a1a" fill-opacity="0.72" stroke="#000" stroke-width="0.6" stroke-opacity="0.8"/>
<circle cx="86.00" cy="336.39" r="1.7" fill="#1a1a1a" fill-opacity="0.72" stroke="#000" stroke-width="0.6" stroke-opacity="0.8"/>
<circle cx="87.30" cy="336.39" r="1.7" fill="#1a1a1a" fill-opacity="0.72" stroke="#000" stroke-width="0.6" stroke-opacity="0.8"/>
<circle cx="88.60" cy="336.39" r="1.7" fill="#1a1a1a" fill-opacity="0.72" stroke="#000" stroke-width="0.6" stroke-opacity="0.8"/>
<circle cx="89.90" cy="336.39" r="1.7" fill="#1a1a1a" fill-opacity="0.72" stroke="#000" stroke-width="0.6" stroke-opacity="0.8"/>
<circle cx="85.00" cy="356.58" r="1.7" fill="#1a1a1a" fill-opacity="0.72" stroke="#000" stroke-width="0.6" stroke-opacity="0.8"/>
<circle cx="86.30" cy="356.58" r="1.7" fill="#1a1a1a" fill-opacity="0.72" stroke="#000" stroke-width="0.6" stroke-opacity="0.8"/>
<circle cx="87.60" cy="356.58" r="1.7" fill="#1a1a1a" fill-opacity="0.72" stroke="#000" stroke-width="0.6" stroke-opacity="0.8"/>
<circle cx="88.80" cy="356.58" r="1.7" fill="#1a1a1a" fill-opacity="0.72" stroke="#000" stroke-width="0.6" stroke-opacity="0.8"/>
<circle cx="90.00" cy="356.58" r="1.7" fill="#1a1a1a" fill-opacity="0.72" stroke="#000" stroke-width="0.6" stroke-opacity="0.8"/>
<circle cx="86.60" cy="376.77" r="1.7" fill="#1a1a1a" fill-opacity="0.72" stroke="#000" stroke-width="0.6" stroke-opacity="0.8"/>
<circle cx="88.40" cy="376.77" r="1.7" fill="#1a1a1a" fill-opacity="0.72" stroke="#000" stroke-width="0.6" stroke-opacity="0.8"/>
<circle cx="90.30" cy="376.77" r="1.7" fill="#1a1a1a" fill-opacity="0.72" stroke="#000" stroke-width="0.6" stroke-opacity="0.8"/>
<circle cx="86.00" cy="396.96" r="1.7" fill="#1a1a1a" fill-opacity="0.72" stroke="#000" stroke-width="0.6" stroke-opacity="0.8"/>
<circle cx="87.20" cy="396.96" r="1.7" fill="#1a1a1a" fill-opacity="0.72" stroke="#000" stroke-width="0.6" stroke-opacity="0.8"/>
<circle cx="88.50" cy="396.96" r="1.7" fill="#1a1a1a" fill-opacity="0.72" stroke="#000" stroke-width="0.6" stroke-opacity="0.8"/>
<circle cx="89.70" cy="396.96" r="1.7" fill="#1a1a1a" fill-opacity="0.72" stroke="#000" stroke-width="0.6" stroke-opacity="0.8"/>
<circle cx="90.50" cy="396.96" r="1.7" fill="#1a1a1a" fill-opacity="0.72" stroke="#000" stroke-width="0.6" stroke-opacity="0.8"/>
<circle cx="88.90" cy="417.15" r="1.7" fill="#1a1a1a" fill-opacity="0.72" stroke="#000" stroke-width="0.6" stroke-opacity="0.8"/>
<circle cx="86.90" cy="437.34" r="1.7" fill="#1a1a1a" fill-opacity="0.72" stroke="#000" stroke-width="0.6" stroke-opacity="0.8"/>
<circle cx="89.70" cy="437.34" r="1.7" fill="#1a1a1a" fill-opacity="0.72" stroke="#000" stroke-width="0.6" stroke-opacity="0.8"/>
<circle cx="87.90" cy="457.52" r="1.7" fill="#1a1a1a" fill-opacity="0.72" stroke="#000" stroke-width="0.6" stroke-opacity="0.8"/>
<circle cx="142.60" cy="316.20" r="1.7" fill="#1a1a1a" fill-opacity="0.72" stroke="#000" stroke-width="0.6" stroke-opacity="0.8"/>
<circle cx="143.80" cy="316.20" r="1.7" fill="#1a1a1a" fill-opacity="0.72" stroke="#000" stroke-width="0.6" stroke-opacity="0.8"/>
<circle cx="145.00" cy="316.20" r="1.7" fill="#1a1a1a" fill-opacity="0.72" stroke="#000" stroke-width="0.6" stroke-opacity="0.8"/>
<circle cx="146.20" cy="316.20" r="1.7" fill="#1a1a1a" fill-opacity="0.72" stroke="#000" stroke-width="0.6" stroke-opacity="0.8"/>
<circle cx="140.50" cy="337.40" r="1.7" fill="#1a1a1a" fill-opacity="0.72" stroke="#000" stroke-width="0.6" stroke-opacity="0.8"/>
<circle cx="141.80" cy="337.40" r="1.7" fill="#1a1a1a" fill-opacity="0.72" stroke="#000" stroke-width="0.6" stroke-opacity="0.8"/>
<circle cx="143.00" cy="337.40" r="1.7" fill="#1a1a1a" fill-opacity="0.72" stroke="#000" stroke-width="0.6" stroke-opacity="0.8"/>
<circle cx="144.30" cy="337.40" r="1.7" fill="#1a1a1a" fill-opacity="0.72" stroke="#000" stroke-width="0.6" stroke-opacity="0.8"/>
<circle cx="145.60" cy="337.40" r="1.7" fill="#1a1a1a" fill-opacity="0.72" stroke="#000" stroke-width="0.6" stroke-opacity="0.8"/>
<circle cx="146.80" cy="337.40" r="1.7" fill="#1a1a1a" fill-opacity="0.72" stroke="#000" stroke-width="0.6" stroke-opacity="0.8"/>
<circle cx="148.30" cy="337.40" r="1.7" fill="#1a1a1a" fill-opacity="0.72" stroke="#000" stroke-width="0.6" stroke-opacity="0.8"/>
<circle cx="142.60" cy="358.60" r="1.7" fill="#1a1a1a" fill-opacity="0.72" stroke="#000" stroke-width="0.6" stroke-opacity="0.8"/>
<circle cx="143.80" cy="358.60" r="1.7" fill="#1a1a1a" fill-opacity="0.72" stroke="#000" stroke-width="0.6" stroke-opacity="0.8"/>
<circle cx="145.00" cy="358.60" r="1.7" fill="#1a1a1a" fill-opacity="0.72" stroke="#000" stroke-width="0.6" stroke-opacity="0.8"/>
<circle cx="146.20" cy="358.60" r="1.7" fill="#1a1a1a" fill-opacity="0.72" stroke="#000" stroke-width="0.6" stroke-opacity="0.8"/>
<circle cx="142.60" cy="379.80" r="1.7" fill="#1a1a1a" fill-opacity="0.72" stroke="#000" stroke-width="0.6" stroke-opacity="0.8"/>
<circle cx="143.90" cy="379.80" r="1.7" fill="#1a1a1a" fill-opacity="0.72" stroke="#000" stroke-width="0.6" stroke-opacity="0.8"/>
<circle cx="145.20" cy="379.80" r="1.7" fill="#1a1a1a" fill-opacity="0.72" stroke="#000" stroke-width="0.6" stroke-opacity="0.8"/>
<circle cx="141.00" cy="401.00" r="1.7" fill="#1a1a1a" fill-opacity="0.72" stroke="#000" stroke-width="0.6" stroke-opacity="0.8"/>
<circle cx="142.00" cy="401.00" r="1.7" fill="#1a1a1a" fill-opacity="0.72" stroke="#000" stroke-width="0.6" stroke-opacity="0.8"/>
<circle cx="142.90" cy="422.20" r="1.7" fill="#1a1a1a" fill-opacity="0.72" stroke="#000" stroke-width="0.6" stroke-opacity="0.8"/>
<circle cx="147.30" cy="443.40" r="1.7" fill="#1a1a1a" fill-opacity="0.72" stroke="#000" stroke-width="0.6" stroke-opacity="0.8"/>
<circle cx="144.20" cy="464.60" r="1.7" fill="#1a1a1a" fill-opacity="0.72" stroke="#000" stroke-width="0.6" stroke-opacity="0.8"/>
<circle cx="144.90" cy="464.60" r="1.7" fill="#1a1a1a" fill-opacity="0.72" stroke="#000" stroke-width="0.6" stroke-opacity="0.8"/>
<circle cx="197.20" cy="316.20" r="1.7" fill="#1a1a1a" fill-opacity="0.72" stroke="#000" stroke-width="0.6" stroke-opacity="0.8"/>
<circle cx="198.50" cy="316.20" r="1.7" fill="#1a1a1a" fill-opacity="0.72" stroke="#000" stroke-width="0.6" stroke-opacity="0.8"/>
<circle cx="199.80" cy="316.20" r="1.7" fill="#1a1a1a" fill-opacity="0.72" stroke="#000" stroke-width="0.6" stroke-opacity="0.8"/>
<circle cx="197.70" cy="335.49" r="1.7" fill="#1a1a1a" fill-opacity="0.72" stroke="#000" stroke-width="0.6" stroke-opacity="0.8"/>
<circle cx="199.00" cy="335.49" r="1.7" fill="#1a1a1a" fill-opacity="0.72" stroke="#000" stroke-width="0.6" stroke-opacity="0.8"/>
<circle cx="200.50" cy="335.49" r="1.7" fill="#1a1a1a" fill-opacity="0.72" stroke="#000" stroke-width="0.6" stroke-opacity="0.8"/>
<circle cx="201.80" cy="335.49" r="1.7" fill="#1a1a1a" fill-opacity="0.72" stroke="#000" stroke-width="0.6" stroke-opacity="0.8"/>
<circle cx="195.70" cy="354.74" r="1.7" fill="#1a1a1a" fill-opacity="0.72" stroke="#000" stroke-width="0.6" stroke-opacity="0.8"/>
<circle cx="197.00" cy="354.74" r="1.7" fill="#1a1a1a" fill-opacity="0.72" stroke="#000" stroke-width="0.6" stroke-opacity="0.8"/>
<circle cx="198.30" cy="354.74" r="1.7" fill="#1a1a1a" fill-opacity="0.72" stroke="#000" stroke-width="0.6" stroke-opacity="0.8"/>
<circle cx="199.60" cy="354.74" r="1.7" fill="#1a1a1a" fill-opacity="0.72" stroke="#000" stroke-width="0.6" stroke-opacity="0.8"/>
<circle cx="200.80" cy="354.74" r="1.7" fill="#1a1a1a" fill-opacity="0.72" stroke="#000" stroke-width="0.6" stroke-opacity="0.8"/>
<circle cx="201.80" cy="354.74" r="1.7" fill="#1a1a1a" fill-opacity="0.72" stroke="#000" stroke-width="0.6" stroke-opacity="0.8"/>
<circle cx="198.60" cy="374.03" r="1.7" fill="#1a1a1a" fill-opacity="0.72" stroke="#000" stroke-width="0.6" stroke-opacity="0.8"/>
<circle cx="199.90" cy="374.03" r="1.7" fill="#1a1a1a" fill-opacity="0.72" stroke="#000" stroke-width="0.6" stroke-opacity="0.8"/>
<circle cx="201.20" cy="374.03" r="1.7" fill="#1a1a1a" fill-opacity="0.72" stroke="#000" stroke-width="0.6" stroke-opacity="0.8"/>
<circle cx="198.60" cy="393.28" r="1.7" fill="#1a1a1a" fill-opacity="0.72" stroke="#000" stroke-width="0.6" stroke-opacity="0.8"/>
<circle cx="199.60" cy="393.28" r="1.7" fill="#1a1a1a" fill-opacity="0.72" stroke="#000" stroke-width="0.6" stroke-opacity="0.8"/>
<circle cx="200.70" cy="393.28" r="1.7" fill="#1a1a1a" fill-opacity="0.72" stroke="#000" stroke-width="0.6" stroke-opacity="0.8"/>
<circle cx="197.20" cy="412.58" r="1.7" fill="#1a1a1a" fill-opacity="0.72" stroke="#000" stroke-width="0.6" stroke-opacity="0.8"/>
<circle cx="197.00" cy="431.82" r="1.7" fill="#1a1a1a" fill-opacity="0.72" stroke="#000" stroke-width="0.6" stroke-opacity="0.8"/>
<circle cx="198.50" cy="431.82" r="1.7" fill="#1a1a1a" fill-opacity="0.72" stroke="#000" stroke-width="0.6" stroke-opacity="0.8"/>
<circle cx="200.50" cy="431.82" r="1.7" fill="#1a1a1a" fill-opacity="0.72" stroke="#000" stroke-width="0.6" stroke-opacity="0.8"/>
<circle cx="202.30" cy="431.82" r="1.7" fill="#1a1a1a" fill-opacity="0.72" stroke="#000" stroke-width="0.6" stroke-opacity="0.8"/>
<circle cx="199.70" cy="470.37" r="1.7" fill="#1a1a1a" fill-opacity="0.72" stroke="#000" stroke-width="0.6" stroke-opacity="0.8"/>
<circle cx="200.30" cy="470.37" r="1.7" fill="#1a1a1a" fill-opacity="0.72" stroke="#000" stroke-width="0.6" stroke-opacity="0.8"/>
<line x1="293.40" y1="299.70" x2="293.40" y2="478.30" stroke="#4a4a4a" stroke-width="1.0"/>
<line x1="292.90" y1="477.80" x2="474.90" y2="477.80" stroke="#4a4a4a" stroke-width="1.0"/>
<line x1="290.40" y1="310.70" x2="293.40" y2="310.70" stroke="#4a4a4a" stroke-width="1.0"/>
<text transform="translate(288.30,314.70) scale(1.0792,1)" font-size="10.49" text-anchor="end" fill="#1a1a1a">7</text>
<line x1="290.40" y1="340.50" x2="293.40" y2="340.50" stroke="#4a4a4a" stroke-width="1.0"/>
<text transform="translate(288.30,344.50) scale(1.0792,1)" font-size="10.49" text-anchor="end" fill="#1a1a1a">6</text>
<line x1="290.40" y1="370.30" x2="293.40" y2="370.30" stroke="#4a4a4a" stroke-width="1.0"/>
<text transform="translate(288.30,374.30) scale(1.0792,1)" font-size="10.49" text-anchor="end" fill="#1a1a1a">5</text>
<line x1="290.40" y1="400.10" x2="293.40" y2="400.10" stroke="#4a4a4a" stroke-width="1.0"/>
<text transform="translate(288.30,404.10) scale(1.0792,1)" font-size="10.49" text-anchor="end" fill="#1a1a1a">4</text>
<line x1="290.40" y1="429.90" x2="293.40" y2="429.90" stroke="#4a4a4a" stroke-width="1.0"/>
<text transform="translate(288.30,433.90) scale(1.0792,1)" font-size="10.49" text-anchor="end" fill="#1a1a1a">3</text>
<line x1="290.40" y1="459.70" x2="293.40" y2="459.70" stroke="#4a4a4a" stroke-width="1.0"/>
<text transform="translate(288.30,463.70) scale(1.0792,1)" font-size="10.49" text-anchor="end" fill="#1a1a1a">2</text>
<line x1="323.90" y1="477.80" x2="323.90" y2="481.20" stroke="#4a4a4a" stroke-width="1.0"/>
<text transform="translate(323.90,491.20) scale(0.9547,1)" font-size="10.49" text-anchor="middle" fill="#1a1a1a">Q</text>
<line x1="384.30" y1="477.80" x2="384.30" y2="481.20" stroke="#4a4a4a" stroke-width="1.0"/>
<text transform="translate(384.30,491.20) scale(0.9121,1)" font-size="10.49" text-anchor="middle" fill="#1a1a1a">C</text>
<line x1="444.40" y1="477.80" x2="444.40" y2="481.20" stroke="#4a4a4a" stroke-width="1.0"/>
<text transform="translate(444.40,491.20) scale(1.0014,1)" font-size="10.49" text-anchor="middle" fill="#1a1a1a">I</text>
<text transform="translate(384.10,294.70) scale(1.0982,1)" font-size="11.40" text-anchor="middle" fill="#1a1a1a">F(2,62) = 1.149, p = 0.324</text>
<text transform="translate(276.30,388.90) rotate(-90) scale(1.0879,1)" font-size="11.40" text-anchor="middle" fill="#1a1a1a">Interest Rating [1-7]</text>
<line x1="323.90" y1="315.20" x2="323.90" y2="355.60" stroke="#222" stroke-width="1.0"/>
<line x1="323.90" y1="399.00" x2="323.90" y2="459.90" stroke="#222" stroke-width="1.0"/>
<line x1="319.30" y1="315.20" x2="328.50" y2="315.20" stroke="#222" stroke-width="1.0"/>
<line x1="319.30" y1="459.90" x2="328.50" y2="459.90" stroke="#222" stroke-width="1.0"/>
<rect x="314.70" y="355.60" width="18.40" height="43.40" fill="#dcdcdc" stroke="#333" stroke-width="1.0"/>
<line x1="315.20" y1="372.70" x2="332.60" y2="372.70" stroke="#f0201c" stroke-width="1.3"/>
<line x1="384.50" y1="314.80" x2="384.50" y2="360.10" stroke="#222" stroke-width="1.0"/>
<line x1="384.50" y1="396.20" x2="384.50" y2="447.80" stroke="#222" stroke-width="1.0"/>
<line x1="380.02" y1="314.80" x2="388.98" y2="314.80" stroke="#222" stroke-width="1.0"/>
<line x1="380.02" y1="447.80" x2="388.98" y2="447.80" stroke="#222" stroke-width="1.0"/>
<rect x="375.55" y="360.10" width="17.90" height="36.10" fill="#bababa" stroke="#333" stroke-width="1.0"/>
<line x1="376.05" y1="373.90" x2="392.95" y2="373.90" stroke="#f0201c" stroke-width="1.3"/>
<line x1="444.40" y1="315.30" x2="444.40" y2="357.10" stroke="#222" stroke-width="1.0"/>
<line x1="444.40" y1="398.90" x2="444.40" y2="459.30" stroke="#222" stroke-width="1.0"/>
<line x1="439.67" y1="315.30" x2="449.12" y2="315.30" stroke="#222" stroke-width="1.0"/>
<line x1="439.67" y1="459.30" x2="449.12" y2="459.30" stroke="#222" stroke-width="1.0"/>
<rect x="434.95" y="357.10" width="18.90" height="41.80" fill="#999999" stroke="#333" stroke-width="1.0"/>
<line x1="435.45" y1="373.80" x2="453.35" y2="373.80" stroke="#f0201c" stroke-width="1.3"/>
<circle cx="326.80" cy="314.80" r="1.75" fill="#333" fill-opacity="0.55" stroke="#000" stroke-width="0.6" stroke-opacity="0.8"/>
<circle cx="324.70" cy="325.80" r="1.75" fill="#333" fill-opacity="0.55" stroke="#000" stroke-width="0.6" stroke-opacity="0.8"/>
<circle cx="321.30" cy="340.50" r="1.75" fill="#333" fill-opacity="0.55" stroke="#000" stroke-width="0.6" stroke-opacity="0.8"/>
<circle cx="324.70" cy="340.50" r="1.75" fill="#333" fill-opacity="0.55" stroke="#000" stroke-width="0.6" stroke-opacity="0.8"/>
<circle cx="326.80" cy="347.40" r="1.75" fill="#333" fill-opacity="0.55" stroke="#000" stroke-width="0.6" stroke-opacity="0.8"/>
<circle cx="324.70" cy="349.10" r="1.75" fill="#333" fill-opacity="0.55" stroke="#000" stroke-width="0.6" stroke-opacity="0.8"/>
<circle cx="323.40" cy="353.30" r="1.75" fill="#333" fill-opacity="0.55" stroke="#000" stroke-width="0.6" stroke-opacity="0.8"/>
<circle cx="321.30" cy="355.70" r="1.75" fill="#333" fill-opacity="0.55" stroke="#000" stroke-width="0.6" stroke-opacity="0.8"/>
<circle cx="320.00" cy="363.60" r="1.75" fill="#333" fill-opacity="0.55" stroke="#000" stroke-width="0.6" stroke-opacity="0.8"/>
<circle cx="322.30" cy="365.30" r="1.75" fill="#333" fill-opacity="0.55" stroke="#000" stroke-width="0.6" stroke-opacity="0.8"/>
<circle cx="324.00" cy="368.70" r="1.75" fill="#333" fill-opacity="0.55" stroke="#000" stroke-width="0.6" stroke-opacity="0.8"/>
<circle cx="322.30" cy="371.50" r="1.75" fill="#333" fill-opacity="0.55" stroke="#000" stroke-width="0.6" stroke-opacity="0.8"/>
<circle cx="324.70" cy="373.20" r="1.75" fill="#333" fill-opacity="0.55" stroke="#000" stroke-width="0.6" stroke-opacity="0.8"/>
<circle cx="323.40" cy="376.30" r="1.75" fill="#333" fill-opacity="0.55" stroke="#000" stroke-width="0.6" stroke-opacity="0.8"/>
<circle cx="322.30" cy="380.80" r="1.75" fill="#333" fill-opacity="0.55" stroke="#000" stroke-width="0.6" stroke-opacity="0.8"/>
<circle cx="324.70" cy="384.20" r="1.75" fill="#333" fill-opacity="0.55" stroke="#000" stroke-width="0.6" stroke-opacity="0.8"/>
<circle cx="323.40" cy="389.30" r="1.75" fill="#333" fill-opacity="0.55" stroke="#000" stroke-width="0.6" stroke-opacity="0.8"/>
<circle cx="324.70" cy="392.10" r="1.75" fill="#333" fill-opacity="0.55" stroke="#000" stroke-width="0.6" stroke-opacity="0.8"/>
<circle cx="322.30" cy="399.70" r="1.75" fill="#333" fill-opacity="0.55" stroke="#000" stroke-width="0.6" stroke-opacity="0.8"/>
<circle cx="324.00" cy="399.70" r="1.75" fill="#333" fill-opacity="0.55" stroke="#000" stroke-width="0.6" stroke-opacity="0.8"/>
<circle cx="323.40" cy="404.10" r="1.75" fill="#333" fill-opacity="0.55" stroke="#000" stroke-width="0.6" stroke-opacity="0.8"/>
<circle cx="329.20" cy="407.60" r="1.75" fill="#333" fill-opacity="0.55" stroke="#000" stroke-width="0.6" stroke-opacity="0.8"/>
<circle cx="325.80" cy="413.40" r="1.75" fill="#333" fill-opacity="0.55" stroke="#000" stroke-width="0.6" stroke-opacity="0.8"/>
<circle cx="325.80" cy="422.70" r="1.75" fill="#333" fill-opacity="0.55" stroke="#000" stroke-width="0.6" stroke-opacity="0.8"/>
<circle cx="324.70" cy="431.30" r="1.75" fill="#333" fill-opacity="0.55" stroke="#000" stroke-width="0.6" stroke-opacity="0.8"/>
<circle cx="325.80" cy="460.50" r="1.75" fill="#333" fill-opacity="0.55" stroke="#000" stroke-width="0.6" stroke-opacity="0.8"/>
<circle cx="323.00" cy="357.00" r="1.75" fill="#333" fill-opacity="0.55" stroke="#000" stroke-width="0.6" stroke-opacity="0.8"/>
<circle cx="325.00" cy="366.00" r="1.75" fill="#333" fill-opacity="0.55" stroke="#000" stroke-width="0.6" stroke-opacity="0.8"/>
<circle cx="321.00" cy="398.50" r="1.75" fill="#333" fill-opacity="0.55" stroke="#000" stroke-width="0.6" stroke-opacity="0.8"/>
<circle cx="326.00" cy="399.50" r="1.75" fill="#333" fill-opacity="0.55" stroke="#000" stroke-width="0.6" stroke-opacity="0.8"/>
<circle cx="385.20" cy="314.80" r="1.75" fill="#333" fill-opacity="0.55" stroke="#000" stroke-width="0.6" stroke-opacity="0.8"/>
<circle cx="385.90" cy="320.60" r="1.75" fill="#333" fill-opacity="0.55" stroke="#000" stroke-width="0.6" stroke-opacity="0.8"/>
<circle cx="379.70" cy="344.70" r="1.75" fill="#333" fill-opacity="0.55" stroke="#000" stroke-width="0.6" stroke-opacity="0.8"/>
<circle cx="381.80" cy="343.00" r="1.75" fill="#333" fill-opacity="0.55" stroke="#000" stroke-width="0.6" stroke-opacity="0.8"/>
<circle cx="382.50" cy="353.30" r="1.75" fill="#333" fill-opacity="0.55" stroke="#000" stroke-width="0.6" stroke-opacity="0.8"/>
<circle cx="384.20" cy="355.70" r="1.75" fill="#333" fill-opacity="0.55" stroke="#000" stroke-width="0.6" stroke-opacity="0.8"/>
<circle cx="381.80" cy="358.40" r="1.75" fill="#333" fill-opacity="0.55" stroke="#000" stroke-width="0.6" stroke-opacity="0.8"/>
<circle cx="383.20" cy="360.10" r="1.75" fill="#333" fill-opacity="0.55" stroke="#000" stroke-width="0.6" stroke-opacity="0.8"/>
<circle cx="387.60" cy="363.60" r="1.75" fill="#333" fill-opacity="0.55" stroke="#000" stroke-width="0.6" stroke-opacity="0.8"/>
<circle cx="385.20" cy="366.00" r="1.75" fill="#333" fill-opacity="0.55" stroke="#000" stroke-width="0.6" stroke-opacity="0.8"/>
<circle cx="382.50" cy="370.40" r="1.75" fill="#333" fill-opacity="0.55" stroke="#000" stroke-width="0.6" stroke-opacity="0.8"/>
<circle cx="385.20" cy="376.30" r="1.75" fill="#333" fill-opacity="0.55" stroke="#000" stroke-width="0.6" stroke-opacity="0.8"/>
<circle cx="386.60" cy="379.00" r="1.75" fill="#333" fill-opacity="0.55" stroke="#000" stroke-width="0.6" stroke-opacity="0.8"/>
<circle cx="385.20" cy="382.50" r="1.75" fill="#333" fill-opacity="0.55" stroke="#000" stroke-width="0.6" stroke-opacity="0.8"/>
<circle cx="383.20" cy="393.50" r="1.75" fill="#333" fill-opacity="0.55" stroke="#000" stroke-width="0.6" stroke-opacity="0.8"/>
<circle cx="385.20" cy="395.50" r="1.75" fill="#333" fill-opacity="0.55" stroke="#000" stroke-width="0.6" stroke-opacity="0.8"/>
<circle cx="386.60" cy="397.90" r="1.75" fill="#333" fill-opacity="0.55" stroke="#000" stroke-width="0.6" stroke-opacity="0.8"/>
<circle cx="385.90" cy="403.10" r="1.75" fill="#333" fill-opacity="0.55" stroke="#000" stroke-width="0.6" stroke-opacity="0.8"/>
<circle cx="386.60" cy="423.00" r="1.75" fill="#333" fill-opacity="0.55" stroke="#000" stroke-width="0.6" stroke-opacity="0.8"/>
<circle cx="386.60" cy="443.60" r="1.75" fill="#333" fill-opacity="0.55" stroke="#000" stroke-width="0.6" stroke-opacity="0.8"/>
<circle cx="384.20" cy="448.50" r="1.75" fill="#333" fill-opacity="0.55" stroke="#000" stroke-width="0.6" stroke-opacity="0.8"/>
<circle cx="385.20" cy="461.50" r="1.75" fill="#333" fill-opacity="0.55" stroke="#000" stroke-width="0.6" stroke-opacity="0.8"/>
<circle cx="383.50" cy="357.00" r="1.75" fill="#333" fill-opacity="0.55" stroke="#000" stroke-width="0.6" stroke-opacity="0.8"/>
<circle cx="386.00" cy="362.00" r="1.75" fill="#333" fill-opacity="0.55" stroke="#000" stroke-width="0.6" stroke-opacity="0.8"/>
<circle cx="384.00" cy="394.50" r="1.75" fill="#333" fill-opacity="0.55" stroke="#000" stroke-width="0.6" stroke-opacity="0.8"/>
<circle cx="387.00" cy="396.50" r="1.75" fill="#333" fill-opacity="0.55" stroke="#000" stroke-width="0.6" stroke-opacity="0.8"/>
<circle cx="382.00" cy="367.00" r="1.75" fill="#333" fill-opacity="0.55" stroke="#000" stroke-width="0.6" stroke-opacity="0.8"/>
<circle cx="444.80" cy="315.30" r="1.75" fill="#333" fill-opacity="0.55" stroke="#000" stroke-width="0.6" stroke-opacity="0.8"/>
<circle cx="446.30" cy="329.80" r="1.75" fill="#333" fill-opacity="0.55" stroke="#000" stroke-width="0.6" stroke-opacity="0.8"/>
<circle cx="443.40" cy="339.30" r="1.75" fill="#333" fill-opacity="0.55" stroke="#000" stroke-width="0.6" stroke-opacity="0.8"/>
<circle cx="444.10" cy="342.50" r="1.75" fill="#333" fill-opacity="0.55" stroke="#000" stroke-width="0.6" stroke-opacity="0.8"/>
<circle cx="441.20" cy="352.70" r="1.75" fill="#333" fill-opacity="0.55" stroke="#000" stroke-width="0.6" stroke-opacity="0.8"/>
<circle cx="444.80" cy="352.70" r="1.75" fill="#333" fill-opacity="0.55" stroke="#000" stroke-width="0.6" stroke-opacity="0.8"/>
<circle cx="441.20" cy="358.20" r="1.75" fill="#333" fill-opacity="0.55" stroke="#000" stroke-width="0.6" stroke-opacity="0.8"/>
<circle cx="443.40" cy="363.60" r="1.75" fill="#333" fill-opacity="0.55" stroke="#000" stroke-width="0.6" stroke-opacity="0.8"/>
<circle cx="445.90" cy="364.70" r="1.75" fill="#333" fill-opacity="0.55" stroke="#000" stroke-width="0.6" stroke-opacity="0.8"/>
<circle cx="444.10" cy="366.50" r="1.75" fill="#333" fill-opacity="0.55" stroke="#000" stroke-width="0.6" stroke-opacity="0.8"/>
<circle cx="445.90" cy="373.80" r="1.75" fill="#333" fill-opacity="0.55" stroke="#000" stroke-width="0.6" stroke-opacity="0.8"/>
<circle cx="441.20" cy="379.30" r="1.75" fill="#333" fill-opacity="0.55" stroke="#000" stroke-width="0.6" stroke-opacity="0.8"/>
<circle cx="445.90" cy="388.00" r="1.75" fill="#333" fill-opacity="0.55" stroke="#000" stroke-width="0.6" stroke-opacity="0.8"/>
<circle cx="445.90" cy="390.20" r="1.75" fill="#333" fill-opacity="0.55" stroke="#000" stroke-width="0.6" stroke-opacity="0.8"/>
<circle cx="441.20" cy="396.40" r="1.75" fill="#333" fill-opacity="0.55" stroke="#000" stroke-width="0.6" stroke-opacity="0.8"/>
<circle cx="444.10" cy="398.20" r="1.75" fill="#333" fill-opacity="0.55" stroke="#000" stroke-width="0.6" stroke-opacity="0.8"/>
<circle cx="441.20" cy="403.60" r="1.75" fill="#333" fill-opacity="0.55" stroke="#000" stroke-width="0.6" stroke-opacity="0.8"/>
<circle cx="442.30" cy="405.50" r="1.75" fill="#333" fill-opacity="0.55" stroke="#000" stroke-width="0.6" stroke-opacity="0.8"/>
<circle cx="440.50" cy="409.10" r="1.75" fill="#333" fill-opacity="0.55" stroke="#000" stroke-width="0.6" stroke-opacity="0.8"/>
<circle cx="443.40" cy="429.10" r="1.75" fill="#333" fill-opacity="0.55" stroke="#000" stroke-width="0.6" stroke-opacity="0.8"/>
<circle cx="443.40" cy="448.40" r="1.75" fill="#333" fill-opacity="0.55" stroke="#000" stroke-width="0.6" stroke-opacity="0.8"/>
<circle cx="445.90" cy="459.30" r="1.75" fill="#333" fill-opacity="0.55" stroke="#000" stroke-width="0.6" stroke-opacity="0.8"/>
<circle cx="443.40" cy="469.10" r="1.75" fill="#333" fill-opacity="0.55" stroke="#000" stroke-width="0.6" stroke-opacity="0.8"/>
<circle cx="443.00" cy="362.00" r="1.75" fill="#333" fill-opacity="0.55" stroke="#000" stroke-width="0.6" stroke-opacity="0.8"/>
<circle cx="446.00" cy="367.00" r="1.75" fill="#333" fill-opacity="0.55" stroke="#000" stroke-width="0.6" stroke-opacity="0.8"/>
<circle cx="444.00" cy="374.00" r="1.75" fill="#333" fill-opacity="0.55" stroke="#000" stroke-width="0.6" stroke-opacity="0.8"/>
<circle cx="442.50" cy="373.50" r="1.75" fill="#333" fill-opacity="0.55" stroke="#000" stroke-width="0.6" stroke-opacity="0.8"/>
<circle cx="446.00" cy="388.50" r="1.75" fill="#333" fill-opacity="0.55" stroke="#000" stroke-width="0.6" stroke-opacity="0.8"/>
<line x1="553.50" y1="300.20" x2="553.50" y2="478.00" stroke="#4a4a4a" stroke-width="1.0"/>
<line x1="553.00" y1="477.50" x2="676.70" y2="477.50" stroke="#4a4a4a" stroke-width="1.0"/>
<line x1="550.50" y1="315.40" x2="553.50" y2="315.40" stroke="#4a4a4a" stroke-width="1.0"/>
<text transform="translate(548.00,319.70) scale(1.0792,1)" font-size="10.49" text-anchor="end" fill="#1a1a1a">100</text>
<line x1="550.50" y1="341.40" x2="553.50" y2="341.40" stroke="#4a4a4a" stroke-width="1.0"/>
<text transform="translate(548.00,345.70) scale(1.0792,1)" font-size="10.49" text-anchor="end" fill="#1a1a1a">90</text>
<line x1="550.50" y1="367.40" x2="553.50" y2="367.40" stroke="#4a4a4a" stroke-width="1.0"/>
<text transform="translate(548.00,371.70) scale(1.0792,1)" font-size="10.49" text-anchor="end" fill="#1a1a1a">80</text>
<line x1="550.50" y1="393.40" x2="553.50" y2="393.40" stroke="#4a4a4a" stroke-width="1.0"/>
<text transform="translate(548.00,397.70) scale(1.0792,1)" font-size="10.49" text-anchor="end" fill="#1a1a1a">70</text>
<line x1="550.50" y1="419.40" x2="553.50" y2="419.40" stroke="#4a4a4a" stroke-width="1.0"/>
<text transform="translate(548.00,423.70) scale(1.0792,1)" font-size="10.49" text-anchor="end" fill="#1a1a1a">60</text>
<line x1="550.50" y1="445.40" x2="553.50" y2="445.40" stroke="#4a4a4a" stroke-width="1.0"/>
<text transform="translate(548.00,449.70) scale(1.0792,1)" font-size="10.49" text-anchor="end" fill="#1a1a1a">50</text>
<line x1="550.50" y1="471.40" x2="553.50" y2="471.40" stroke="#4a4a4a" stroke-width="1.0"/>
<text transform="translate(548.00,475.70) scale(1.0792,1)" font-size="10.49" text-anchor="end" fill="#1a1a1a">40</text>
<line x1="584.10" y1="477.50" x2="584.10" y2="480.90" stroke="#4a4a4a" stroke-width="1.0"/>
<text transform="translate(584.10,490.90) scale(1.0543,1)" font-size="10.49" text-anchor="middle" fill="#1a1a1a">High</text>
<line x1="645.90" y1="477.50" x2="645.90" y2="480.90" stroke="#4a4a4a" stroke-width="1.0"/>
<text transform="translate(645.90,490.90) scale(1.0127,1)" font-size="10.49" text-anchor="middle" fill="#1a1a1a">Low</text>
<text transform="translate(615.00,294.90) scale(1.1181,1)" font-size="11.40" text-anchor="middle" fill="#1a1a1a">t(28) = 1.856, p = 0.074</text>
<text transform="translate(523.60,388.80) rotate(-90) scale(1.0693,1)" font-size="11.40" text-anchor="middle" fill="#1a1a1a">Accuracy [%]</text>
<line x1="584.10" y1="315.40" x2="584.10" y2="323.50" stroke="#222" stroke-width="1.0"/>
<line x1="584.10" y1="356.20" x2="584.10" y2="396.50" stroke="#222" stroke-width="1.0"/>
<line x1="579.25" y1="315.40" x2="588.95" y2="315.40" stroke="#222" stroke-width="1.0"/>
<line x1="579.25" y1="396.50" x2="588.95" y2="396.50" stroke="#222" stroke-width="1.0"/>
<rect x="574.40" y="323.50" width="19.40" height="32.70" fill="#dcdcdc" stroke="#333" stroke-width="1.0"/>
<line x1="574.90" y1="331.50" x2="593.30" y2="331.50" stroke="#f0201c" stroke-width="1.3"/>
<line x1="646.00" y1="315.40" x2="646.00" y2="331.50" stroke="#222" stroke-width="1.0"/>
<line x1="646.00" y1="379.90" x2="646.00" y2="454.00" stroke="#222" stroke-width="1.0"/>
<line x1="641.15" y1="315.40" x2="650.85" y2="315.40" stroke="#222" stroke-width="1.0"/>
<line x1="641.15" y1="454.00" x2="650.85" y2="454.00" stroke="#222" stroke-width="1.0"/>
<rect x="636.30" y="331.50" width="19.40" height="48.40" fill="#bababa" stroke="#333" stroke-width="1.0"/>
<line x1="636.80" y1="339.50" x2="655.20" y2="339.50" stroke="#f0201c" stroke-width="1.3"/>
<circle cx="581.00" cy="315.40" r="1.7" fill="#1a1a1a" fill-opacity="0.72" stroke="#000" stroke-width="0.6" stroke-opacity="0.8"/>
<circle cx="582.30" cy="315.40" r="1.7" fill="#1a1a1a" fill-opacity="0.72" stroke="#000" stroke-width="0.6" stroke-opacity="0.8"/>
<circle cx="583.60" cy="315.40" r="1.7" fill="#1a1a1a" fill-opacity="0.72" stroke="#000" stroke-width="0.6" stroke-opacity="0.8"/>
<circle cx="585.00" cy="315.40" r="1.7" fill="#1a1a1a" fill-opacity="0.72" stroke="#000" stroke-width="0.6" stroke-opacity="0.8"/>
<circle cx="586.30" cy="315.40" r="1.7" fill="#1a1a1a" fill-opacity="0.72" stroke="#000" stroke-width="0.6" stroke-opacity="0.8"/>
<circle cx="581.50" cy="323.52" r="1.7" fill="#1a1a1a" fill-opacity="0.72" stroke="#000" stroke-width="0.6" stroke-opacity="0.8"/>
<circle cx="583.00" cy="323.52" r="1.7" fill="#1a1a1a" fill-opacity="0.72" stroke="#000" stroke-width="0.6" stroke-opacity="0.8"/>
<circle cx="584.50" cy="323.52" r="1.7" fill="#1a1a1a" fill-opacity="0.72" stroke="#000" stroke-width="0.6" stroke-opacity="0.8"/>
<circle cx="586.00" cy="323.52" r="1.7" fill="#1a1a1a" fill-opacity="0.72" stroke="#000" stroke-width="0.6" stroke-opacity="0.8"/>
<circle cx="587.30" cy="323.52" r="1.7" fill="#1a1a1a" fill-opacity="0.72" stroke="#000" stroke-width="0.6" stroke-opacity="0.8"/>
<circle cx="581.50" cy="331.65" r="1.7" fill="#1a1a1a" fill-opacity="0.72" stroke="#000" stroke-width="0.6" stroke-opacity="0.8"/>
<circle cx="583.00" cy="331.65" r="1.7" fill="#1a1a1a" fill-opacity="0.72" stroke="#000" stroke-width="0.6" stroke-opacity="0.8"/>
<circle cx="584.50" cy="331.65" r="1.7" fill="#1a1a1a" fill-opacity="0.72" stroke="#000" stroke-width="0.6" stroke-opacity="0.8"/>
<circle cx="586.00" cy="331.65" r="1.7" fill="#1a1a1a" fill-opacity="0.72" stroke="#000" stroke-width="0.6" stroke-opacity="0.8"/>
<circle cx="582.30" cy="339.77" r="1.7" fill="#1a1a1a" fill-opacity="0.72" stroke="#000" stroke-width="0.6" stroke-opacity="0.8"/>
<circle cx="583.50" cy="339.77" r="1.7" fill="#1a1a1a" fill-opacity="0.72" stroke="#000" stroke-width="0.6" stroke-opacity="0.8"/>
<circle cx="584.70" cy="339.77" r="1.7" fill="#1a1a1a" fill-opacity="0.72" stroke="#000" stroke-width="0.6" stroke-opacity="0.8"/>
<circle cx="584.10" cy="347.90" r="1.7" fill="#1a1a1a" fill-opacity="0.72" stroke="#000" stroke-width="0.6" stroke-opacity="0.8"/>
<circle cx="587.30" cy="356.02" r="1.7" fill="#1a1a1a" fill-opacity="0.72" stroke="#000" stroke-width="0.6" stroke-opacity="0.8"/>
<circle cx="584.10" cy="364.15" r="1.7" fill="#1a1a1a" fill-opacity="0.72" stroke="#000" stroke-width="0.6" stroke-opacity="0.8"/>
<circle cx="581.80" cy="372.27" r="1.7" fill="#1a1a1a" fill-opacity="0.72" stroke="#000" stroke-width="0.6" stroke-opacity="0.8"/>
<circle cx="582.80" cy="372.27" r="1.7" fill="#1a1a1a" fill-opacity="0.72" stroke="#000" stroke-width="0.6" stroke-opacity="0.8"/>
<circle cx="585.80" cy="372.27" r="1.7" fill="#1a1a1a" fill-opacity="0.72" stroke="#000" stroke-width="0.6" stroke-opacity="0.8"/>
<circle cx="586.80" cy="396.65" r="1.7" fill="#1a1a1a" fill-opacity="0.72" stroke="#000" stroke-width="0.6" stroke-opacity="0.8"/>
<circle cx="579.50" cy="412.90" r="1.7" fill="#1a1a1a" fill-opacity="0.72" stroke="#000" stroke-width="0.6" stroke-opacity="0.8"/>
<circle cx="585.60" cy="412.90" r="1.7" fill="#1a1a1a" fill-opacity="0.72" stroke="#000" stroke-width="0.6" stroke-opacity="0.8"/>
<circle cx="647.20" cy="315.40" r="1.7" fill="#1a1a1a" fill-opacity="0.72" stroke="#000" stroke-width="0.6" stroke-opacity="0.8"/>
<circle cx="643.00" cy="323.52" r="1.7" fill="#1a1a1a" fill-opacity="0.72" stroke="#000" stroke-width="0.6" stroke-opacity="0.8"/>
<circle cx="644.00" cy="323.52" r="1.7" fill="#1a1a1a" fill-opacity="0.72" stroke="#000" stroke-width="0.6" stroke-opacity="0.8"/>
<circle cx="647.00" cy="323.52" r="1.7" fill="#1a1a1a" fill-opacity="0.72" stroke="#000" stroke-width="0.6" stroke-opacity="0.8"/>
<circle cx="640.50" cy="331.65" r="1.7" fill="#1a1a1a" fill-opacity="0.72" stroke="#000" stroke-width="0.6" stroke-opacity="0.8"/>
<circle cx="641.80" cy="331.65" r="1.7" fill="#1a1a1a" fill-opacity="0.72" stroke="#000" stroke-width="0.6" stroke-opacity="0.8"/>
<circle cx="643.00" cy="331.65" r="1.7" fill="#1a1a1a" fill-opacity="0.72" stroke="#000" stroke-width="0.6" stroke-opacity="0.8"/>
<circle cx="644.30" cy="331.65" r="1.7" fill="#1a1a1a" fill-opacity="0.72" stroke="#000" stroke-width="0.6" stroke-opacity="0.8"/>
<circle cx="645.60" cy="331.65" r="1.7" fill="#1a1a1a" fill-opacity="0.72" stroke="#000" stroke-width="0.6" stroke-opacity="0.8"/>
<circle cx="646.80" cy="331.65" r="1.7" fill="#1a1a1a" fill-opacity="0.72" stroke="#000" stroke-width="0.6" stroke-opacity="0.8"/>
<circle cx="646.30" cy="339.77" r="1.7" fill="#1a1a1a" fill-opacity="0.72" stroke="#000" stroke-width="0.6" stroke-opacity="0.8"/>
<circle cx="647.50" cy="339.77" r="1.7" fill="#1a1a1a" fill-opacity="0.72" stroke="#000" stroke-width="0.6" stroke-opacity="0.8"/>
<circle cx="648.70" cy="339.77" r="1.7" fill="#1a1a1a" fill-opacity="0.72" stroke="#000" stroke-width="0.6" stroke-opacity="0.8"/>
<circle cx="650.00" cy="339.77" r="1.7" fill="#1a1a1a" fill-opacity="0.72" stroke="#000" stroke-width="0.6" stroke-opacity="0.8"/>
<circle cx="646.00" cy="364.15" r="1.7" fill="#1a1a1a" fill-opacity="0.72" stroke="#000" stroke-width="0.6" stroke-opacity="0.8"/>
<circle cx="646.30" cy="364.15" r="1.7" fill="#1a1a1a" fill-opacity="0.72" stroke="#000" stroke-width="0.6" stroke-opacity="0.8"/>
<circle cx="644.00" cy="380.40" r="1.7" fill="#1a1a1a" fill-opacity="0.72" stroke="#000" stroke-width="0.6" stroke-opacity="0.8"/>
<circle cx="651.00" cy="380.40" r="1.7" fill="#1a1a1a" fill-opacity="0.72" stroke="#000" stroke-width="0.6" stroke-opacity="0.8"/>
<circle cx="643.20" cy="388.52" r="1.7" fill="#1a1a1a" fill-opacity="0.72" stroke="#000" stroke-width="0.6" stroke-opacity="0.8"/>
<circle cx="644.40" cy="388.52" r="1.7" fill="#1a1a1a" fill-opacity="0.72" stroke="#000" stroke-width="0.6" stroke-opacity="0.8"/>
<circle cx="645.60" cy="388.52" r="1.7" fill="#1a1a1a" fill-opacity="0.72" stroke="#000" stroke-width="0.6" stroke-opacity="0.8"/>
<circle cx="647.00" cy="388.52" r="1.7" fill="#1a1a1a" fill-opacity="0.72" stroke="#000" stroke-width="0.6" stroke-opacity="0.8"/>
<circle cx="644.30" cy="396.65" r="1.7" fill="#1a1a1a" fill-opacity="0.72" stroke="#000" stroke-width="0.6" stroke-opacity="0.8"/>
<circle cx="647.70" cy="429.15" r="1.7" fill="#1a1a1a" fill-opacity="0.72" stroke="#000" stroke-width="0.6" stroke-opacity="0.8"/>
<circle cx="645.60" cy="453.52" r="1.7" fill="#1a1a1a" fill-opacity="0.72" stroke="#000" stroke-width="0.6" stroke-opacity="0.8"/>
<circle cx="647.70" cy="469.77" r="1.7" fill="#1a1a1a" fill-opacity="0.72" stroke="#000" stroke-width="0.6" stroke-opacity="0.8"/>
</svg></body></html>
